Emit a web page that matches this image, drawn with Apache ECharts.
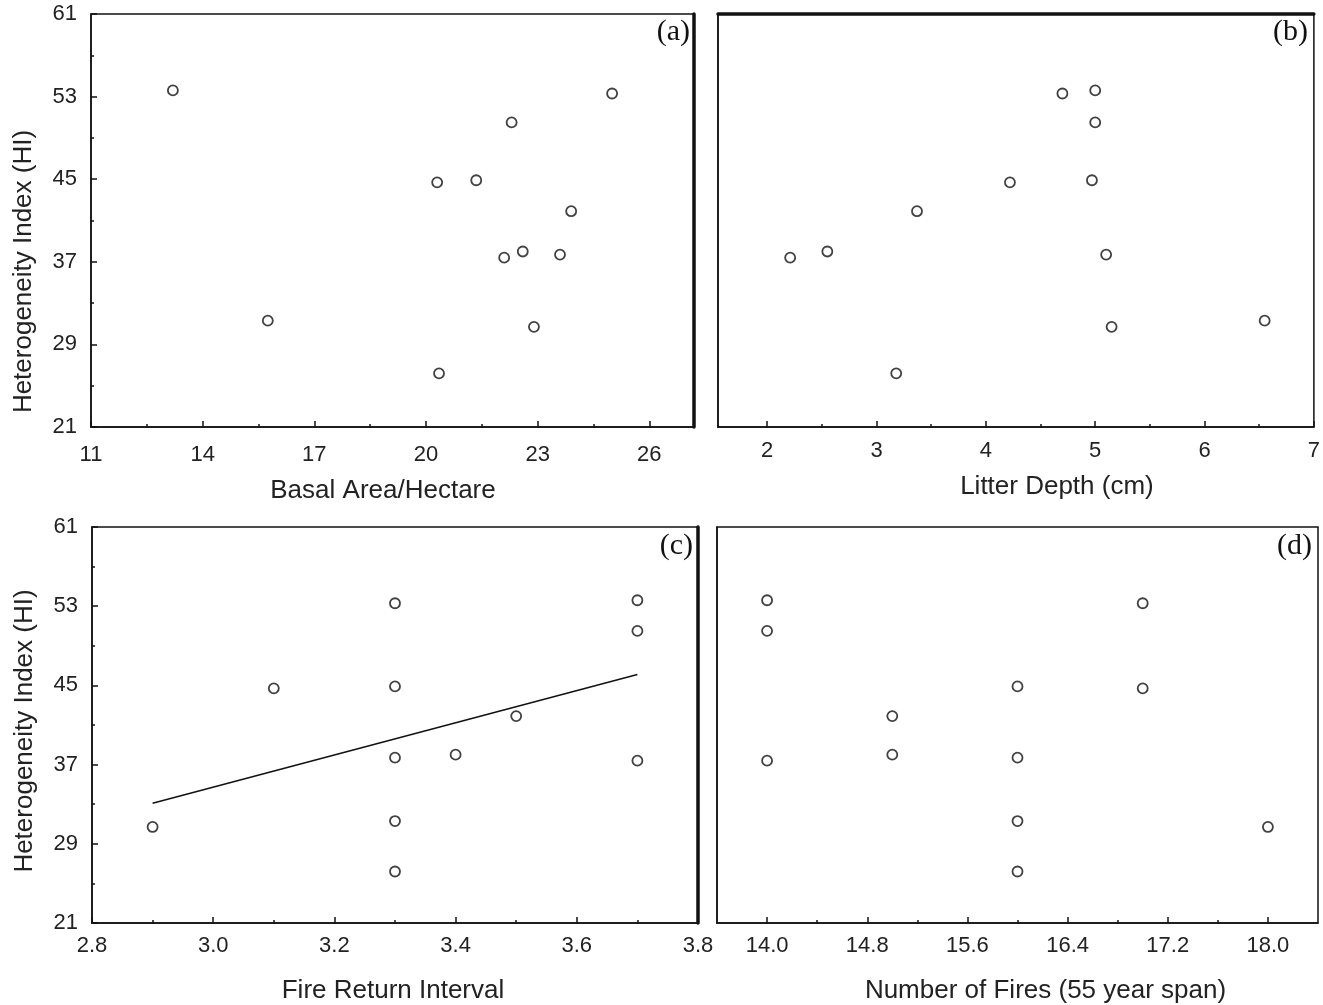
<!DOCTYPE html>
<html>
<head>
<meta charset="utf-8">
<title>Heterogeneity Index vs. stand and fire variables</title>
<script src="https://cdn.jsdelivr.net/npm/echarts@6/dist/echarts.min.js"></script>
<style>
  html, body { margin: 0; padding: 0; background: #fff; }
  #chart { width: 1323px; height: 1005px; }
</style>
</head>
<body>
<div id="chart"></div>
<script>
// One entry per site: Heterogeneity Index and the four explanatory variables
const heterogeneityIndex = [53.6, 53.3, 50.5, 44.9, 44.7, 41.9, 38.0, 37.7, 37.4, 31.3, 30.7, 26.2];
const basalArea          = [13.2, 25.0, 22.3, 21.35, 20.3, 23.9, 22.6, 23.6, 22.1, 15.75, 22.9, 20.35];
const litterDepth        = [5.0, 4.7, 5.0, 4.97, 4.22, 3.37, 2.55, 5.1, 2.21, 6.55, 5.15, 3.18];
const fireReturnInterval = [3.7, 3.3, 3.7, 3.3, 3.1, 3.5, 3.4, 3.3, 3.7, 3.3, 2.9, 3.3];
const numberOfFires      = [14, 17, 14, 16, 17, 15, 15, 16, 14, 16, 18, 16];

// Fitted line for panel (c), as two end points [x, y]
const fireReturnFit = [[2.9, 33.1], [3.7, 46.1]];

// Tick positions
const hiMajorTicks = [21, 29, 37, 45, 53, 61];
const hiMinorTicks = [25, 33, 41, 49, 57];
const basalMajorTicks = [11, 14, 17, 20, 23, 26];
const basalMinorTicks = [12.5, 15.5, 18.5, 21.5, 24.5];
const litterMajorTicks = [2, 3, 4, 5, 6, 7];
const litterMinorTicks = [2.5, 3.5, 4.5, 5.5, 6.5];
const friMajorTicks = [2.8, 3.0, 3.2, 3.4, 3.6, 3.8];
const friMinorTicks = [2.9, 3.1, 3.3, 3.5, 3.7];
const firesMajorTicks = [14.0, 14.8, 15.6, 16.4, 17.2, 18.0];
const firesMinorTicks = [14.4, 15.2, 16.0, 16.8, 17.6];

const INK = '#111';
const TEXT = '#222';
const SANS = '"Liberation Sans", Arial, sans-serif';
const SERIF = '"Liberation Serif", "Times New Roman", serif';

const chart = echarts.init(document.getElementById('chart'));

const grids = [], xAxes = [], yAxes = [], series = [];

function pair(xs) { return xs.map((x, i) => [x, heterogeneityIndex[i]]); }

function panel(cfg) {
  const g = grids.length;
  grids.push({
    left: cfg.box[0], top: cfg.box[1], width: cfg.box[2], height: cfg.box[3],
    show: true, borderColor: INK, borderWidth: 1.5, backgroundColor: 'transparent'
  });
  const fmt = cfg.decimals ? (v => Number(v).toFixed(cfg.decimals)) : (v => String(v));
  // bottom axis with labels and long ticks
  const xi = xAxes.length;
  xAxes.push({
    type: 'value', gridIndex: g, position: 'bottom', min: cfg.xMin, max: cfg.xMax,
    name: cfg.xName, nameLocation: 'middle', nameGap: cfg.xNameGap,
    nameTextStyle: { fontFamily: SANS, fontSize: 26, color: TEXT, padding: cfg.xNamePad },
    axisLine: { show: true, lineStyle: { color: INK, width: 1.5 } },
    axisTick: { show: true, inside: true, length: 6, customValues: cfg.xMajor, lineStyle: { color: INK, width: 1.5 } },
    axisLabel: { show: true, customValues: cfg.xMajor, formatter: fmt, margin: cfg.xLabelMargin,
      fontFamily: SANS, fontSize: 22, color: TEXT },
    splitLine: { show: false }
  });
  // short in-between ticks
  xAxes.push({
    type: 'value', gridIndex: g, position: 'bottom', min: cfg.xMin, max: cfg.xMax,
    axisLine: { show: false },
    axisTick: { show: true, inside: true, length: 3, customValues: cfg.xMinor, lineStyle: { color: INK, width: 1.5 } },
    axisLabel: { show: false }, splitLine: { show: false }
  });
  const yi = yAxes.length;
  yAxes.push({
    type: 'value', gridIndex: g, position: 'left', min: 21, max: 61,
    name: cfg.yName || '', nameLocation: 'middle', nameGap: 54, nameRotate: 90,
    nameTextStyle: { fontFamily: SANS, fontSize: 26, color: TEXT, padding: cfg.yNamePad || 0 },
    axisLine: { show: true, lineStyle: { color: INK, width: 1.5 } },
    axisTick: { show: !!cfg.yTicks, inside: true, length: 6, customValues: hiMajorTicks, lineStyle: { color: INK, width: 1.5 } },
    axisLabel: { show: !!cfg.yTicks, customValues: hiMajorTicks, margin: 14, padding: [10, 0, 0, 0],
      fontFamily: SANS, fontSize: 22, color: TEXT },
    splitLine: { show: false }
  });
  if (cfg.yTicks) {
    yAxes.push({
      type: 'value', gridIndex: g, position: 'left', min: 21, max: 61,
      axisLine: { show: false },
      axisTick: { show: true, inside: true, length: 3, customValues: hiMinorTicks, lineStyle: { color: INK, width: 1.5 } },
      axisLabel: { show: false }, splitLine: { show: false }
    });
  }
  // heavier frame edge
  if (cfg.heavy === 'right') {
    yAxes.push({
      type: 'value', gridIndex: g, position: 'right', min: 21, max: 61,
      axisLine: { show: true, lineStyle: { color: INK, width: 3.5 } },
      axisTick: { show: false }, axisLabel: { show: false }, splitLine: { show: false }
    });
  } else if (cfg.heavy === 'top') {
    xAxes.push({
      type: 'value', gridIndex: g, position: 'top', min: cfg.xMin, max: cfg.xMax,
      axisLine: { show: true, lineStyle: { color: INK, width: 3.5 } },
      axisTick: { show: false }, axisLabel: { show: false }, splitLine: { show: false }
    });
  }
  series.push({
    type: 'scatter', xAxisIndex: xi, yAxisIndex: yi, data: pair(cfg.x),
    symbol: 'circle', symbolSize: 10,
    itemStyle: { color: '#fff', borderColor: INK, borderWidth: 1.8 },
    emphasis: { disabled: true }
  });
  return { xi, yi };
}

panel({ box: [91, 14, 603, 413], xMin: 11, xMax: 27.2, x: basalArea,
  xMajor: basalMajorTicks, xMinor: basalMinorTicks, xName: 'Basal Area/Hectare',
  xNameGap: 51, xNamePad: [0, 19, 0, 0], xLabelMargin: 17,
  yTicks: true, yName: 'Heterogeneity Index (HI)', yNamePad: [0, 102, 0, 0], heavy: 'right' });

panel({ box: [718, 14, 599, 413], xMin: 1.55, xMax: 7, x: litterDepth,
  xMajor: litterMajorTicks, xMinor: litterMinorTicks, xName: 'Litter Depth (cm)',
  xNameGap: 47, xNamePad: [0, 0, 0, 82], xLabelMargin: 13, heavy: 'top' });

const c = panel({ box: [92, 527, 606, 396], xMin: 2.8, xMax: 3.8, x: fireReturnInterval, decimals: 1,
  xMajor: friMajorTicks, xMinor: friMinorTicks, xName: 'Fire Return Interval',
  xNameGap: 55, xNamePad: [0, 4, 0, 0], xLabelMargin: 12,
  yTicks: true, yName: 'Heterogeneity Index (HI)', yNamePad: [0, 12, 0, 0], heavy: 'right' });

panel({ box: [717, 527, 601, 396], xMin: 13.6, xMax: 18.4, x: numberOfFires, decimals: 1,
  xMajor: firesMajorTicks, xMinor: firesMinorTicks, xName: 'Number of Fires (55 year span)',
  xNameGap: 55, xNamePad: [0, 0, 0, 56], xLabelMargin: 12 });

series.push({
  type: 'line', xAxisIndex: c.xi, yAxisIndex: c.yi, data: fireReturnFit,
  showSymbol: false, silent: true,
  lineStyle: { color: INK, width: 1.5 }
});

function tag(text, right, top) {
  return { type: 'text', right, top, silent: true,
    style: { text, font: '30px ' + SERIF, fill: INK } };
}

chart.setOption({
  backgroundColor: '#fff',
  animation: false,
  grid: grids,
  xAxis: xAxes,
  yAxis: yAxes,
  series,
  graphic: [
    tag('(a)', 633, 17),
    tag('(b)', 15, 17),
    tag('(c)', 630, 531),
    tag('(d)', 11, 531)
  ]
});
</script>
</body>
</html>
